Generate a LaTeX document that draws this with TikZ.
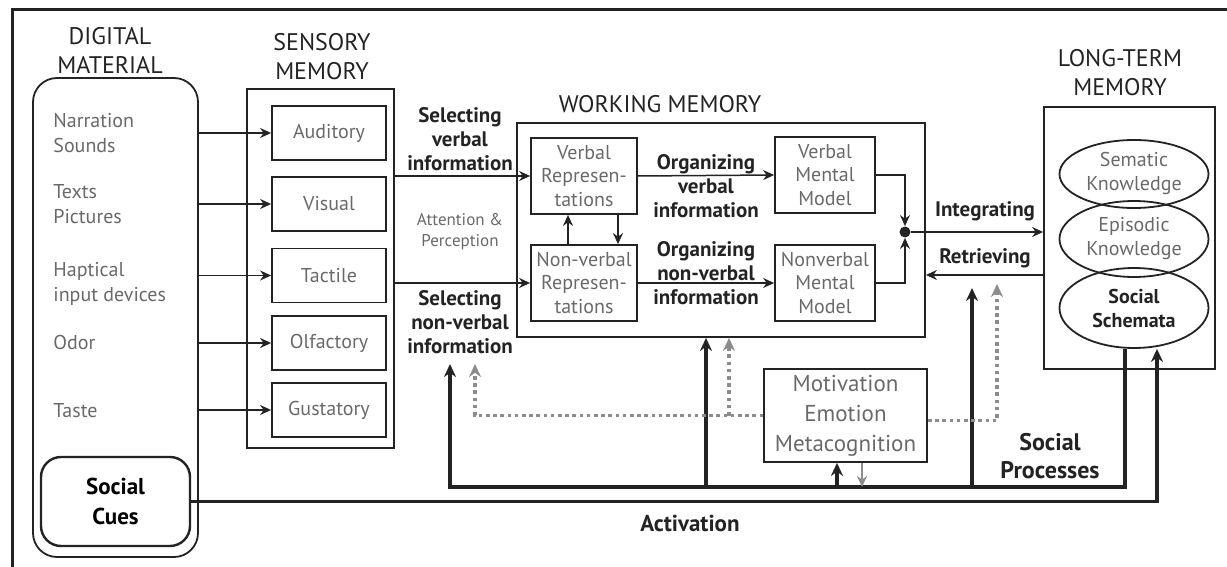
\documentclass[tikz,border=0pt]{standalone}
\usepackage{fontspec}
\setmainfont{PT Sans}
\usetikzlibrary{arrows.meta,shapes.geometric,positioning}
\definecolor{cmdark}{RGB}{35,35,35}
\definecolor{cmgray}{RGB}{105,105,105}
\definecolor{cmdot}{RGB}{140,140,140}
\begin{document}
\begin{tikzpicture}[x=0.5pt,y=-0.5pt,
  frame/.style={draw=cmdark,line width=0.9pt,inner sep=0pt},
  box/.style={frame,align=center,text=cmgray,font=\fontsize{10}{11.8}\selectfont},
  ell/.style={ellipse,draw=cmdark,line width=0.9pt,inner sep=0pt,align=center,minimum width=74.5pt,text=cmgray,font=\fontsize{10}{12}\selectfont},
  item/.style={anchor=west,align=left,text=cmgray,inner sep=0pt,font=\fontsize{10}{12.3}\selectfont},
  ttl/.style={align=center,text=cmdark,font=\fontsize{12}{14.5}\selectfont},
  lbl/.style={align=center,text=cmdark,inner sep=1pt,font=\bfseries\fontsize{10.5}{12}\selectfont},
  arr/.style={draw=cmdark,line width=0.75pt,-{Stealth[length=5.5pt,width=5pt]}},
  thk/.style={draw=cmdark,line width=1.6pt},
  thkarr/.style={thk,-{Stealth[length=6.5pt,width=6pt]}},
  dots/.style={draw=cmdot,line width=1.6pt,dash pattern=on 1.8pt off 1.8pt},
  dotarr/.style={dots,-{Stealth[length=6.5pt,width=6pt]}}]
  \useasboundingbox (0,0) rectangle (1227,567);
  \draw[line width=1.5pt,cmdark] (12,567) -- (12,10) -- (1227,10);
  % titles
  \node[ttl] (dmt) at (110,50) {DIGITAL\\MATERIAL}; \node[ttl] (smt) at (322,57) {SENSORY\\MEMORY};
  \node[ttl] (wmt) at (660,104) {WORKING MEMORY}; \node[ttl] (ltmt) at (1120,73) {LONG-TERM\\MEMORY};
  % digital material
  \node[frame,rounded corners=12pt,minimum width=82.5pt,minimum height=239.5pt] (dm) at (115.5,317.5) {};
  \node[item] (nar) at (53,133) {Narration\\Sounds}; \node[item] (txt) at (53,204) {Texts\\Pictures};
  \node[item] (hap) at (53,284) {Haptical\\input devices}; \node[item] (odo) at (53,342) {Odor};
  \node[item] (tas) at (53,411) {Taste};
  \node[frame,line width=1.2pt,rounded corners=10pt,minimum width=74.5pt,minimum height=44.5pt,align=center,font=\bfseries\fontsize{11.5}{15}\selectfont] (sc) at (115.5,501.5) {Social\\Cues};
  % sensory memory
  \node[frame,minimum width=73.5pt,minimum height=179.5pt] (sm) at (320.5,268.5) {};
  \foreach \n/\y/\t in {aud/133/Auditory,vis/204/Visual,tac/275.5/Tactile,olf/343/Olfactory,gus/410/Gustatory} {
    \node[box,minimum width=57pt,minimum height=27pt] (\n) at (329,\y) {\t};
    \draw[arr] (\n.west -| dm.east) -- (\n.west);
  }
  % working memory
  \node[frame,minimum width=204pt,minimum height=107pt] (wm) at (721,230) {};
  \node[box,minimum width=53pt,minimum height=38pt] (vr) at (584,176) {Verbal\\Represen-\\tations};
  \node[box,minimum width=53pt,minimum height=38pt] (nr) at (584,283) {Non-verbal\\Represen-\\tations};
  \node[box,minimum width=50pt,minimum height=38pt] (vmm) at (825,175) {Verbal\\Mental\\Model};
  \node[box,minimum width=50pt,minimum height=38pt] (nmm) at (825,283) {Nonverbal\\Mental\\Model};
  \node[circle,fill=cmdark,minimum size=5.5pt,inner sep=0pt] (dot) at (905,232) {};
  % long-term memory
  \node[frame,minimum width=85.5pt,minimum height=131pt] (ltm) at (1129.5,238) {};
  \node[ell,minimum height=34pt] (sk) at (1134,174) {Sematic\\Knowledge};
  \node[ell,minimum height=38pt] (ek) at (1134,239) {Episodic\\Knowledge};
  \node[ell,minimum height=40pt,text=cmdark,font=\bfseries\fontsize{10}{12}\selectfont] (ss) at (1134,308) {Social\\Schemata};
  \node[box,minimum width=81.5pt,minimum height=46.5pt,font=\fontsize{11.5}{15}\selectfont] (mo) at (845.5,415.5) {Motivation\\Emotion\\Metacognition};
  % labels
  \node[lbl] (selv) at (460,139) {Selecting\\verbal\\information};
  \node[align=center,text=cmgray,font=\fontsize{8.5}{10.5}\selectfont] (att) at (460,232) {Attention \&\\Perception};
  \node[lbl] (selnv) at (460,322) {Selecting\\non-verbal\\information};
  \node[lbl] (orgv) at (706,186) {Organizing\\verbal\\information};
  \node[lbl] (orgnv) at (706,273) {Organizing\\non-verbal\\information};
  \node[lbl] (intg) at (985,211) {Integrating}; \node[lbl] (retr) at (985,258) {Retrieving};
  \node[lbl,font=\bfseries\fontsize{12}{14}\selectfont] (sp) at (1050,456) {Social\\Processes};
  \node[lbl,font=\bfseries\fontsize{11.5}{14}\selectfont] (act) at (690,523) {Activation};
  % connectors
  \draw[arr] (sm.east |- vr.west) -- (vr.west); \draw[arr] (sm.east |- nr.west) -- (nr.west);
  \draw[arr] (vr.east) -- (vmm.west); \draw[arr] (nr.east) -- (nmm.west);
  \draw[arr] ([xshift=-8pt]nr.north) -- ([xshift=-8pt]vr.south);
  \draw[arr] ([xshift=17pt]vr.south) -- ([xshift=17pt]nr.north);
  \draw[arr] (vmm.east) -| (dot.north); \draw[arr] (nmm.east) -| (dot.south);
  \draw[arr] (dot) -- (dot -| ltm.west);
  \coordinate (ret) at (1044,275); \draw[arr] (ret) -- (ret -| wm.east);
  % social processes and activation
  \coordinate (bus) at (450,487); \coordinate (snv) at (450,364); \coordinate (rt) at (972,288);
  \draw[thkarr] ([xshift=-4.5pt]ss.south) |- (bus) -- (snv);
  \draw[thkarr] (bus -| wm.south) ++(-7.5pt,0) coordinate (bwm) -- (bwm |- wm.south);
  \draw[thkarr] (rt |- bus) -- (rt);
  \draw[thkarr] ([xshift=-4.25pt]mo.south |- bus) -- ([xshift=-4.25pt]mo.south);
  \draw[draw=cmdot,line width=1.2pt,-{Stealth[length=5.5pt,width=5pt]}] ([xshift=8.25pt]mo.south) -- ([xshift=8.25pt]mo.south |- bus);
  \draw[thkarr] (sc.east) -| ([xshift=11.5pt]ss.south);
  % motivation links
  \coordinate (dl) at (475,364); \coordinate (dr) at (997,284);
  \draw[dotarr] (mo.west) -| (dl);
  \draw[dotarr] ([xshift=4pt]wm.south |- mo.west) -- ([xshift=4pt]wm.south);
  \draw[dotarr] ([yshift=-2.5pt]mo.east) -| (dr);
\end{tikzpicture}
\end{document}
